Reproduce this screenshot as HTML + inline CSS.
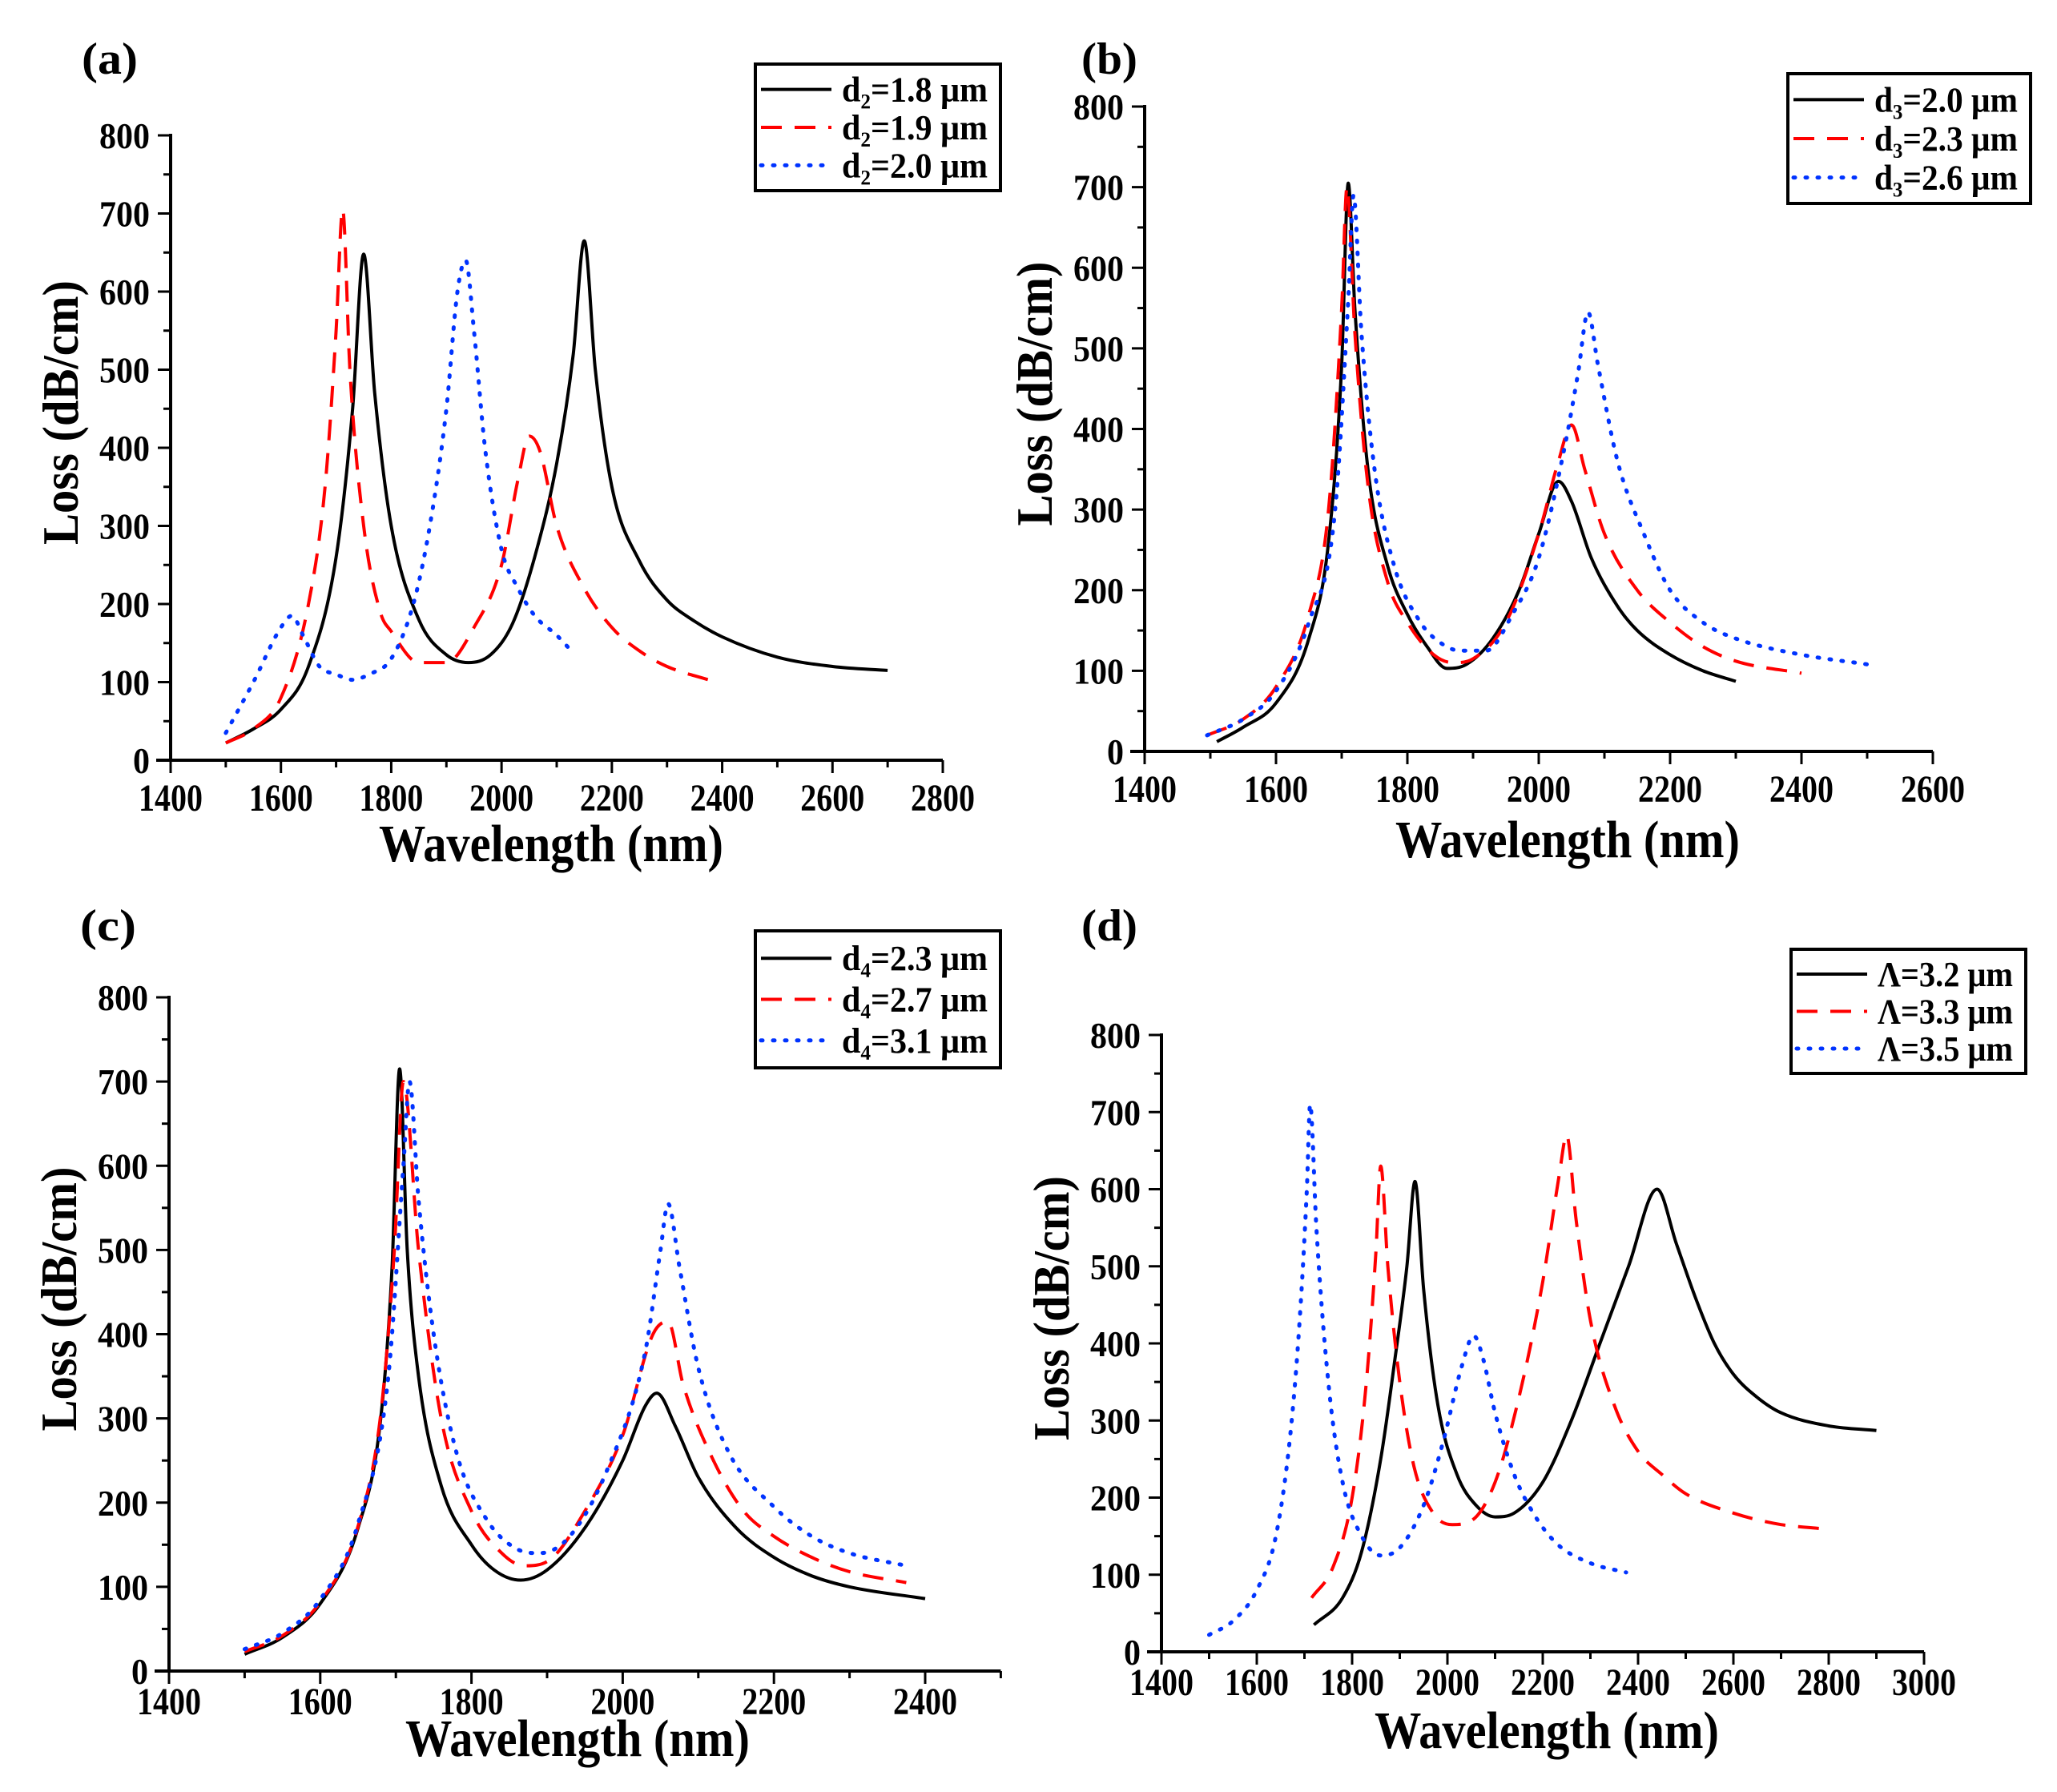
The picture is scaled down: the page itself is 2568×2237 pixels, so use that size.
<!DOCTYPE html>
<html>
<head>
<meta charset="utf-8">
<style>
  html, body { margin: 0; padding: 0; background: #fff; }
  svg { display: block; }
  text { font-family: "Liberation Serif", serif; font-weight: bold; fill: #000; }
</style>
</head>
<body>
<svg id="fig" width="2568" height="2237" viewBox="0 0 2568 2237" xmlns="http://www.w3.org/2000/svg"></svg>
<script>
// ---------- Panel (a) data ----------
const a_black_wl   = [1500,1550,1600,1650,1700,1730,1750,1770,1800,1850,1900,1940,1980,2020,2060,2100,2130,2150,2170,2200,2250,2300,2350,2400,2500,2600,2700];
const a_black_loss = [22,40,65,120,260,450,648,470,300,180,135,125,135,175,260,380,520,665,500,350,255,205,178,158,132,120,115];
const a_red_wl     = [1500,1550,1600,1650,1680,1700,1712,1725,1750,1780,1800,1850,1900,1950,2000,2030,2050,2070,2100,2150,2200,2250,2300,2375];
const a_red_loss   = [22,40,80,200,350,550,705,500,300,190,165,125,125,170,250,360,415,395,300,220,170,140,120,103];
const a_blue_wl    = [1500,1550,1600,1620,1640,1670,1700,1730,1760,1800,1840,1870,1900,1920,1935,1950,1970,2000,2030,2060,2100,2120];
const a_blue_loss  = [35,100,170,185,160,120,110,103,110,130,200,300,450,600,640,550,400,270,220,185,160,145];
// ---------- Panel (b) data ----------
const b_black_wl   = [1510,1550,1600,1650,1680,1700,1710,1720,1740,1770,1800,1830,1860,1890,1930,1970,2000,2030,2050,2080,2120,2150,2200,2250,2300];
const b_black_loss = [12,30,60,140,260,480,705,550,350,230,170,130,103,108,140,200,270,335,310,240,180,150,120,100,87];
const b_red_wl     = [1495,1550,1600,1650,1680,1700,1708,1720,1740,1770,1800,1840,1870,1900,1950,2000,2030,2050,2070,2100,2150,2200,2250,2300,2400];
const b_red_loss   = [20,40,80,170,300,550,700,520,330,210,160,120,110,115,160,270,360,405,350,270,200,160,130,112,97];
const b_blue_wl    = [1495,1550,1600,1650,1690,1710,1718,1730,1750,1780,1820,1850,1880,1920,1960,2000,2040,2060,2075,2090,2120,2160,2200,2250,2300,2400,2500];
const b_blue_loss  = [20,40,75,160,300,560,690,520,350,230,160,135,125,125,170,240,380,470,545,480,360,270,200,160,140,120,108];
// ---------- Panel (c) data ----------
const c_black_wl   = [1500,1550,1600,1650,1680,1695,1705,1715,1730,1760,1800,1830,1865,1900,1950,2000,2030,2045,2070,2100,2150,2200,2250,2300,2400];
const c_black_loss = [20,40,80,170,300,480,715,500,350,220,150,120,108,120,170,250,315,330,290,230,170,135,113,100,86];
const c_red_wl     = [1500,1550,1600,1650,1680,1698,1710,1730,1760,1800,1840,1870,1900,1950,2000,2040,2060,2080,2120,2160,2200,2250,2300,2375];
const c_red_loss   = [23,42,82,172,305,500,700,500,300,190,140,125,130,190,280,400,415,340,250,190,160,135,118,105];
const c_blue_wl    = [1500,1550,1600,1650,1690,1710,1718,1730,1750,1780,1820,1860,1890,1930,1980,2030,2050,2060,2075,2100,2140,2200,2250,2300,2375];
const c_blue_loss  = [26,45,85,175,350,600,700,560,400,260,180,145,140,160,240,380,500,555,480,360,260,195,160,140,125];
// ---------- Panel (d) data ----------
const d_black_wl   = [1720,1780,1820,1860,1890,1915,1932,1950,1980,2020,2060,2100,2140,2200,2260,2320,2380,2440,2480,2520,2560,2600,2650,2700,2800,2900];
const d_black_loss = [35,70,130,250,380,500,610,470,320,230,190,175,180,220,300,400,500,600,530,460,400,360,330,310,293,287];
const d_red_wl     = [1715,1760,1800,1830,1850,1860,1875,1900,1930,1970,2010,2050,2100,2150,2200,2235,2250,2270,2300,2350,2400,2450,2500,2600,2700,2780];
const d_red_loss   = [70,110,200,350,520,630,500,350,240,180,165,170,220,330,480,620,670,560,430,320,260,230,205,180,165,160];
const d_blue_wl    = [1500,1550,1600,1640,1670,1690,1705,1712,1725,1750,1780,1820,1860,1900,1950,1990,2030,2055,2075,2100,2140,2180,2230,2300,2375];
const d_blue_loss  = [22,40,80,150,280,430,600,710,550,350,220,150,125,135,190,270,370,410,380,310,230,180,140,115,103];

// ---------- Tick & legend labels ----------
const yTicks = [0,100,200,300,400,500,600,700,800];
const a_xTicks = [1400,1600,1800,2000,2200,2400,2600,2800];
const b_xTicks = [1400,1600,1800,2000,2200,2400,2600];
const c_xTicks = [1400,1600,1800,2000,2200,2400];
const d_xTicks = [1400,1600,1800,2000,2200,2400,2600,2800,3000];
const a_legend = ["d\u2082=1.8 \u03bcm","d\u2082=1.9 \u03bcm","d\u2082=2.0 \u03bcm"];
const b_legend = ["d\u2083=2.0 \u03bcm","d\u2083=2.3 \u03bcm","d\u2083=2.6 \u03bcm"];
const c_legend = ["d\u2084=2.3 \u03bcm","d\u2084=2.7 \u03bcm","d\u2084=3.1 \u03bcm"];
const d_legend = ["\u039b=3.2 \u03bcm","\u039b=3.3 \u03bcm","\u039b=3.5 \u03bcm"];

const NS = "http://www.w3.org/2000/svg";
const svg = document.getElementById('fig');
function mk(tag, attrs, parent) {
  const e = document.createElementNS(NS, tag);
  for (const k in attrs) e.setAttribute(k, attrs[k]);
  (parent || svg).appendChild(e);
  return e;
}
const STYLES = [
  {stroke:'#000', dash:null, cap:'butt', w:4},
  {stroke:'#ff0000', dash:'26 16', cap:'butt', w:4},
  {stroke:'#0033ff', dash:'2 13', cap:'round', w:5}
];

function monoPath(X, Y) {
  const n = X.length;
  const d = [], m = new Array(n);
  for (let i = 0; i < n - 1; i++) d.push((Y[i+1] - Y[i]) / (X[i+1] - X[i]));
  m[0] = d[0]; m[n-1] = d[n-2];
  for (let i = 1; i < n - 1; i++) m[i] = (d[i-1] * d[i] <= 0) ? 0 : (d[i-1] + d[i]) / 2;
  for (let i = 0; i < n - 1; i++) {
    if (d[i] === 0) { m[i] = 0; m[i+1] = 0; continue; }
    const a = m[i] / d[i], b = m[i+1] / d[i], s = a*a + b*b;
    if (s > 9) { const t = 3 / Math.sqrt(s); m[i] = t*a*d[i]; m[i+1] = t*b*d[i]; }
  }
  let p = 'M' + X[0].toFixed(1) + ',' + Y[0].toFixed(1);
  for (let i = 0; i < n - 1; i++) {
    const h = (X[i+1] - X[i]) / 3;
    p += ' C' + (X[i]+h).toFixed(1) + ',' + (Y[i]+m[i]*h).toFixed(1) + ' ' +
         (X[i+1]-h).toFixed(1) + ',' + (Y[i+1]-m[i+1]*h).toFixed(1) + ' ' +
         X[i+1].toFixed(1) + ',' + Y[i+1].toFixed(1);
  }
  return p;
}

function panel(p) {
  const g = mk('g', {});
  
  
  const xs = v => p.px0 + (v - p.w0) * (p.px1 - p.px0) / (p.w1 - p.w0);
  const ys = v => p.py0 + v * (p.py800 - p.py0) / 800;

  p.series.forEach((s, i) => {
    const st = STYLES[i];
    const X = s.wl.map(xs), Y = s.loss.map(ys);
    const pl = mk('path', {d: monoPath(X, Y), fill:'none', stroke: st.stroke, 'stroke-width': st.w,
      'stroke-linecap': st.cap, 'stroke-linejoin':'round'}, g);
    if (st.dash) pl.setAttribute('stroke-dasharray', st.dash);
    
    
  });

  const xEnd = xs(p.axisEnd);
  const xa = mk('line', {x1: p.px0 - 18, y1: p.py0, x2: xEnd, y2: p.py0, stroke:'#000', 'stroke-width':4}, g);
  
  
  const ya = mk('line', {x1: p.px0, y1: p.py0 + 2, x2: p.px0, y2: ys(800) - 2, stroke:'#000', 'stroke-width':4}, g);
  
  

  for (let w = p.w0; w <= p.axisEnd + 0.1; w += 100) {
    const major = ((w - p.w0) % 200) === 0;
    mk('line', {x1: xs(w), y1: p.py0, x2: xs(w), y2: p.py0 + (major ? 16 : 9), stroke:'#000', 'stroke-width':3}, g);
  }
  p.xTicks.forEach(t => {
    const s = String(t);
    const tx = mk('text', {x: xs(t), y: p.py0 + p.tlDy, 'text-anchor':'middle', 'font-size':48,
      textLength: 80, lengthAdjust:'spacingAndGlyphs'}, g);
    tx.textContent = s;
    
    
  });
  for (let v = 0; v <= 800; v += 50) {
    const major = v % 100 === 0;
    mk('line', {x1: p.px0 - (major ? 16 : 9), y1: ys(v), x2: p.px0, y2: ys(v), stroke:'#000', 'stroke-width':3}, g);
  }
  yTicks.forEach(t => {
    const s = String(t);
    const tx = mk('text', {x: p.px0 - 26, y: ys(t) + 16, 'text-anchor':'end', 'font-size':46,
      textLength: s.length * 21, lengthAdjust:'spacingAndGlyphs'}, g);
    tx.textContent = s;
    
    
  });

  const xt = mk('text', {x: p.xtX, y: p.py0 + p.xtDy, 'text-anchor':'middle', 'font-size':66,
    textLength: 430, lengthAdjust:'spacingAndGlyphs'}, g);
  xt.textContent = 'Wavelength (nm)';
  
  
  const cy = (p.py0 + ys(800)) / 2 - 44;
  const cx = p.px0 - 138;
  const yt = mk('text', {x: 0, y: 0, 'text-anchor':'middle', 'font-size':64,
    textLength: 330, lengthAdjust:'spacingAndGlyphs',
    transform: 'translate(' + (cx + 22) + ',' + cy + ') rotate(-90)'}, g);
  yt.textContent = 'Loss (dB/cm)';
  
  

  const pl = mk('text', {x: p.lx, y: p.ly, 'font-size':56, textLength: 70, lengthAdjust:'spacingAndGlyphs'}, g);
  pl.textContent = '(' + p.id + ')';
  
  

  const L = p.legend;
  const lg = mk('g', {}, g);
  
  
  mk('rect', {x: L[0], y: L[1], width: L[2], height: L[3], fill:'#fff', stroke:'#000', 'stroke-width':4}, lg);
  p.labels.forEach((lab, i) => {
    const st = STYLES[i];
    const ry = L[1] + L[3] * (0.2 + 0.3 * i);
    const ln = mk('line', {x1: L[0] + 7, y1: ry, x2: L[0] + 95, y2: ry, stroke: st.stroke, 'stroke-width': st.w, 'stroke-linecap': st.cap}, lg);
    if (st.dash) ln.setAttribute('stroke-dasharray', st.dash);
    
    
    const tx = mk('text', {x: L[0] + 108, y: ry + 15, 'font-size':44, textLength: L[2] - 124, lengthAdjust:'spacingAndGlyphs'}, lg);
    tx.textContent = lab;
    
    
  });
}

panel({id:'a', px0:213, px1:1177, w0:1400, w1:2800, axisEnd:2800, py0:949, py800:169,
  xTicks:a_xTicks, tlDy:63, xtX:688, xtDy:126, lx:102, ly:92, legend:[943,80,306,158], labels:a_legend,
  series:[{wl:a_black_wl, loss:a_black_loss},{wl:a_red_wl, loss:a_red_loss},{wl:a_blue_wl, loss:a_blue_loss}]});
panel({id:'b', px0:1429, px1:2413, w0:1400, w1:2600, axisEnd:2600, py0:938, py800:133,
  xTicks:b_xTicks, tlDy:63, xtX:1957, xtDy:132, lx:1350, ly:92, legend:[2232,92,303,162], labels:b_legend,
  series:[{wl:b_black_wl, loss:b_black_loss},{wl:b_red_wl, loss:b_red_loss},{wl:b_blue_wl, loss:b_blue_loss}]});
panel({id:'c', px0:211, px1:1155, w0:1400, w1:2400, axisEnd:2500, py0:2086, py800:1245,
  xTicks:c_xTicks, tlDy:54, xtX:721, xtDy:106, lx:100, ly:1174, legend:[943,1162,306,171], labels:c_legend,
  series:[{wl:c_black_wl, loss:c_black_loss},{wl:c_red_wl, loss:c_red_loss},{wl:c_blue_wl, loss:c_blue_loss}]});
panel({id:'d', px0:1450, px1:2402, w0:1400, w1:3000, axisEnd:3000, py0:2062, py800:1292,
  xTicks:d_xTicks, tlDy:54, xtX:1931, xtDy:120, lx:1350, ly:1174, legend:[2236,1185,293,155], labels:d_legend,
  series:[{wl:d_black_wl, loss:d_black_loss},{wl:d_red_wl, loss:d_red_loss},{wl:d_blue_wl, loss:d_blue_loss}]});
</script>
</body>
</html>
